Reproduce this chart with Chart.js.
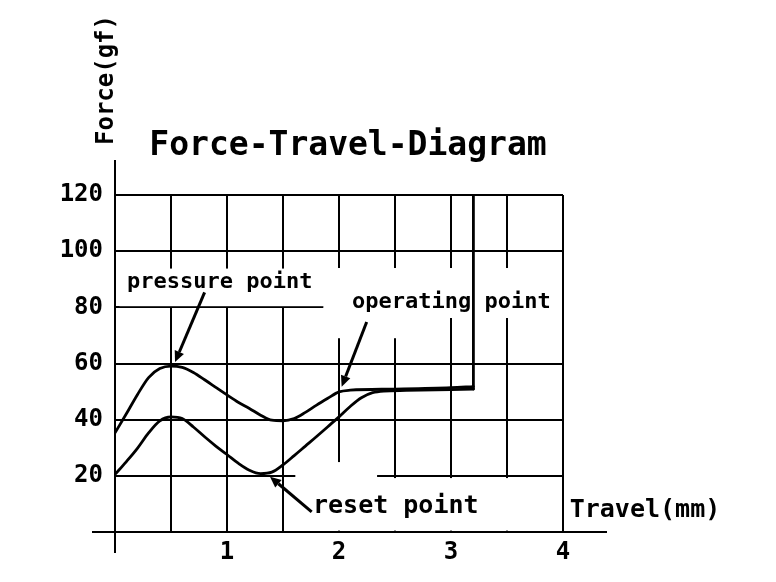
<!DOCTYPE html>
<html>
<head>
<meta charset="utf-8">
<script src="https://cdn.jsdelivr.net/npm/chart.js@4.4.1/dist/chart.umd.min.js"></script>
<style>
  html, body { margin: 0; padding: 0; background: #fff; }
  #wrap { width: 776px; height: 582px; }
</style>
</head>
<body>
<div id="wrap"><canvas id="c" width="776" height="582"></canvas></div>
<script>
// ---- data ----
const pressTravel   = [0, 0.1, 0.2, 0.3, 0.4, 0.5, 0.6, 0.7, 0.8, 0.9, 1.0, 1.1, 1.2, 1.3, 1.4, 1.5, 1.6, 1.7, 1.8, 1.9, 2.0, 2.1, 2.5, 3.0, 3.2];
const pressForce    = [35.3, 42.0, 48.9, 55.0, 58.2, 59.1, 58.6, 56.8, 54.2, 51.5, 48.8, 46.2, 44.0, 41.6, 39.8, 39.6, 40.4, 42.6, 45.2, 47.6, 49.9, 50.5, 50.9, 51.4, 51.8];
const releaseTravel = [0, 0.1, 0.2, 0.3, 0.4, 0.5, 0.6, 0.7, 0.8, 0.9, 1.0, 1.1, 1.2, 1.3, 1.4, 1.5, 1.6, 1.7, 1.8, 1.9, 2.0, 2.1, 2.2, 2.3, 2.4, 2.6, 3.2];
const releaseForce  = [20.5, 25.0, 29.8, 35.3, 39.6, 41.0, 40.4, 37.4, 33.9, 30.6, 27.6, 24.5, 22.0, 20.8, 21.3, 23.9, 27.2, 30.6, 34.0, 37.5, 41.0, 44.7, 47.8, 49.6, 50.2, 50.4, 50.9];
const riseTravel    = [3.2, 3.2];
const riseForce     = [50.9, 120];
const xTickLabels = ['1', '2', '3', '4'];
const yTickLabels = ['20', '40', '60', '80', '100', '120'];
const chartTitle = 'Force-Travel-Diagram';
const yAxisTitle = 'Force(gf)';
const xAxisTitle = 'Travel(mm)';
const annotations = [
  { text: 'pressure point',  x: 0.107, y: 86.9, size: 22, tail: [0.80, 85.3], tip: [0.536, 60.5] },
  { text: 'operating point', x: 2.116, y: 79.8, size: 22, tail: [2.247, 74.8], tip: [2.024, 51.7] },
  { text: 'reset point',     x: 1.768, y: 6.8,  size: 25, tail: [1.756, 7.2], tip: [1.384, 19.7] }
];
// regions where the drawn grid is interrupted in the reference (data units)
const gridGaps = [
  [0.04, 93.8, 1.86, 80.4],
  [1.86, 94.0, 3.992, 76.2],
  [1.92, 76.2, 2.59, 69.0],
  [1.61, 24.9, 2.34, 0.5],
  [2.34, 19.2, 3.992, 0.5]
];

const FONT = '"DejaVu Sans Mono", "Liberation Mono", monospace';
const toPts = (xs, ys) => xs.map((x, i) => ({ x: x, y: ys[i] }));

const decor = {
  id: 'decor',
  beforeDatasetsDraw(chart) {
    const { ctx, scales: { x, y } } = chart;
    ctx.save();
    ctx.fillStyle = '#fff';
    gridGaps.forEach(g => {
      const x1 = x.getPixelForValue(g[0]), y1 = y.getPixelForValue(g[1]);
      const x2 = x.getPixelForValue(g[2]), y2 = y.getPixelForValue(g[3]);
      ctx.fillRect(x1, y1, x2 - x1, y2 - y1);
    });
    ctx.restore();
  },
  afterDraw(chart) {
    const { ctx, chartArea: a, scales: { x, y } } = chart;
    ctx.save();
    ctx.strokeStyle = '#000';
    ctx.fillStyle = '#000';
    // axis extensions and right frame
    ctx.lineWidth = 2;
    ctx.beginPath();
    ctx.moveTo(a.left - 23, a.bottom); ctx.lineTo(a.right + 44, a.bottom);
    ctx.moveTo(a.left, a.top - 35); ctx.lineTo(a.left, a.bottom + 21);
    ctx.moveTo(x.getPixelForValue(4), y.getPixelForValue(120));
    ctx.lineTo(x.getPixelForValue(4), y.getPixelForValue(0));
    ctx.stroke();
    // arrows + labels
    annotations.forEach(an => {
      const tx = x.getPixelForValue(an.tail[0]), ty = y.getPixelForValue(an.tail[1]);
      const px = x.getPixelForValue(an.tip[0]), py = y.getPixelForValue(an.tip[1]);
      const ang = Math.atan2(py - ty, px - tx);
      const L = 11, W = 5;
      const bx = px - L * Math.cos(ang), by = py - L * Math.sin(ang);
      ctx.lineWidth = 3;
      ctx.beginPath(); ctx.moveTo(tx, ty); ctx.lineTo(bx, by); ctx.stroke();
      ctx.beginPath();
      ctx.moveTo(px, py);
      ctx.lineTo(bx + W * Math.sin(ang), by - W * Math.cos(ang));
      ctx.lineTo(bx - W * Math.sin(ang), by + W * Math.cos(ang));
      ctx.closePath(); ctx.fill();
      ctx.font = 'bold ' + an.size + 'px ' + FONT;
      ctx.textAlign = 'left'; ctx.textBaseline = 'alphabetic';
      ctx.fillText(an.text, x.getPixelForValue(an.x), y.getPixelForValue(an.y));
    });
    // x axis title
    ctx.font = 'bold 25px ' + FONT;
    ctx.textAlign = 'left';
    ctx.fillText(xAxisTitle, x.getPixelForValue(4.06), y.getPixelForValue(5.3));
    // chart title
    ctx.font = 'bold 33px ' + FONT;
    ctx.textAlign = 'center';
    ctx.fillText(chartTitle, 348, 155);
    // y axis title (rotated)
    ctx.translate(113, 80);
    ctx.rotate(-Math.PI / 2);
    ctx.font = 'bold 24px ' + FONT;
    ctx.textAlign = 'center';
    ctx.fillText(yAxisTitle, 0, 0);
    ctx.restore();
  }
};

const lineStyle = { borderColor: '#000', borderWidth: 2.8, pointRadius: 0, fill: false, borderCapStyle: 'round', borderJoinStyle: 'round' };

new Chart(document.getElementById('c'), {
  type: 'line',
  data: {
    datasets: [
      Object.assign({ label: 'press', data: toPts(pressTravel, pressForce), cubicInterpolationMode: 'monotone' }, lineStyle),
      Object.assign({ label: 'release', data: toPts(releaseTravel, releaseForce), cubicInterpolationMode: 'monotone' }, lineStyle),
      Object.assign({ label: 'rise', data: toPts(riseTravel, riseForce), tension: 0 }, lineStyle)
    ]
  },
  options: {
    responsive: false,
    animation: false,
    layout: { padding: { left: 0, right: 213, top: 195, bottom: 0 } },
    plugins: { legend: { display: false }, tooltip: { enabled: false }, title: { display: false } },
    scales: {
      x: {
        type: 'linear', min: 0, max: 4,
        afterFit: s => { s.height = 50; },
        grid: { color: '#000', lineWidth: 2, drawTicks: false },
        border: { color: '#000', width: 2 },
        ticks: {
          stepSize: 0.5, padding: 6, color: '#000', maxRotation: 0, autoSkip: false,
          font: { family: FONT, size: 24, weight: 'bold' },
          callback: v => (Number.isInteger(v) && v > 0) ? xTickLabels[v - 1] : ''
        }
      },
      y: {
        min: 0, max: 120,
        afterFit: s => { s.width = 115; },
        grid: { color: '#000', lineWidth: 2, drawTicks: false },
        border: { color: '#000', width: 2 },
        ticks: {
          stepSize: 20, padding: 12, color: '#000', autoSkip: false,
          font: { family: FONT, size: 24, weight: 'bold' },
          callback: v => v > 0 ? yTickLabels[v / 20 - 1] : ''
        }
      }
    }
  },
  plugins: [decor]
});
</script>
</body>
</html>
